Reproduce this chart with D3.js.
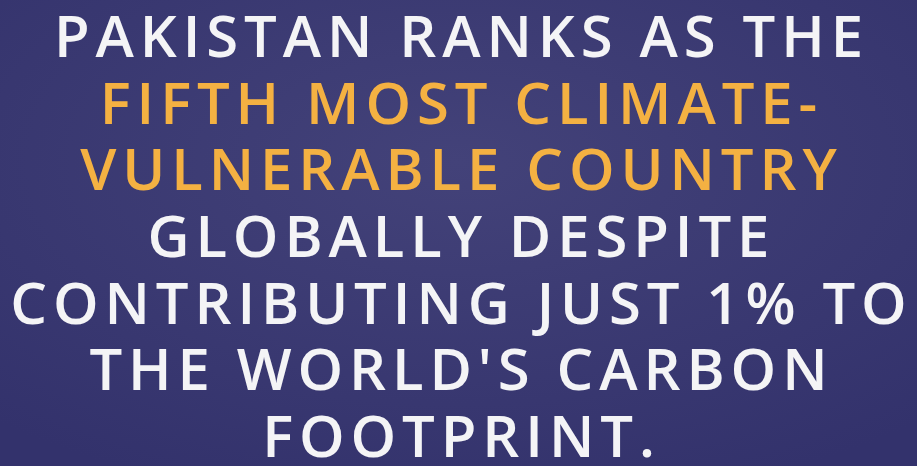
<!DOCTYPE html>
<html>
<head>
<meta charset="utf-8">
<script src="https://cdn.jsdelivr.net/npm/d3@7"></script>
<style>
  html, body { margin: 0; padding: 0; background: #3a3972; }
  svg { display: block; }
</style>
</head>
<body>
<div id="chart"></div>
<script>
// Lignes du texte et couleur de chaque ligne
const lines = [
    "PAKISTAN RANKS AS THE",
    "FIFTH MOST CLIMATE-",
    "VULNERABLE COUNTRY",
    "GLOBALLY DESPITE",
    "CONTRIBUTING JUST 1% TO",
    "THE WORLD'S CARBON",
    "FOOTPRINT."
];
const highlight = [false, true, true, false, false, false, false];

const width = 917;
const height = 466;

const svg = d3.select("#chart")
    .append("svg")
    .attr("width", width)
    .attr("height", height);

// Fond bleu nuit avec un léger dégradé
const defs = svg.append("defs");
const grad = defs.append("radialGradient")
    .attr("id", "bg")
    .attr("cx", "50%").attr("cy", "35%").attr("r", "75%");
grad.append("stop").attr("offset", "0%").attr("stop-color", "#434279");
grad.append("stop").attr("offset", "100%").attr("stop-color", "#33326c");

svg.append("rect")
    .attr("width", width)
    .attr("height", height)
    .attr("fill", "url(#bg)");

// Échelle verticale pour les lignes (position de la ligne de base)
const y = d3.scalePoint()
    .domain(d3.range(lines.length))
    .range([57, 457]);

const spacing = 5.9;

svg.append("g")
    .selectAll("text")
    .data(lines)
    .join("text")
    .attr("x", width / 2 + spacing / 2)
    .attr("y", (d, i) => y(i))
    .attr("text-anchor", "middle")
    .attr("font-family", "'Open Sans', sans-serif")
    .attr("font-weight", 600)
    .attr("font-size", 58)
    .attr("letter-spacing", spacing)
    .attr("fill", (d, i) => highlight[i] ? "#f4b142" : "#f4f4f6")
    .text(d => d);
</script>
</body>
</html>
